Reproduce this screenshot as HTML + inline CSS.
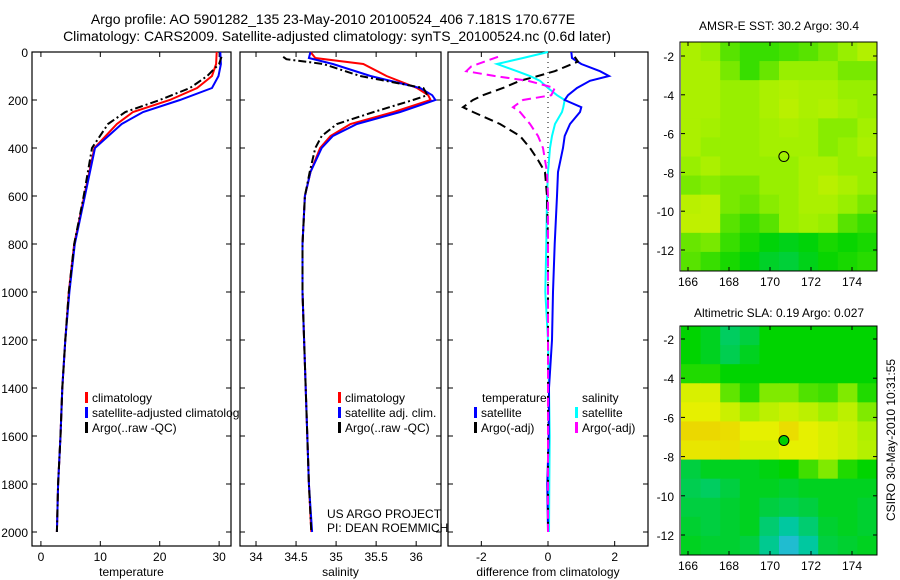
<!DOCTYPE html>
<html><head><meta charset="utf-8"><style>
html,body{margin:0;padding:0;background:#fff;}
svg{display:block;font-family:"Liberation Sans",sans-serif;}
</style></head><body>
<svg id="fig" width="900" height="580" viewBox="0 0 900 580" xmlns="http://www.w3.org/2000/svg">
<rect width="900" height="580" fill="#fff"/>
<text x="333" y="24" font-size="14" text-anchor="middle">Argo profile: AO 5901282_135 23-May-2010 20100524_406 7.181S 170.677E</text>
<text x="337" y="41" font-size="14" text-anchor="middle">Climatology: CARS2009. Satellite-adjusted climatology: synTS_20100524.nc (0.6d later)</text>
<g id="p1"></g>
<g id="p2"></g>
<g id="p3"></g>
<g id="m1"></g>
<g id="m2"></g>
<text x="779" y="30" font-size="12" text-anchor="middle">AMSR-E SST: 30.2 Argo: 30.4</text>
<text x="779" y="317" font-size="12" text-anchor="middle">Altimetric SLA: 0.19 Argo: 0.027</text>
<text transform="translate(895,440) rotate(-90)" font-size="12" text-anchor="middle">CSIRO 30-May-2010 10:31:55</text>
<text x="327" y="518" font-size="12">US ARGO PROJECT</text>
<text x="327" y="532" font-size="12">PI: DEAN ROEMMICH</text>
</svg>
<script>
// ---- profile data ----
const depthT = [0,50,100,150,200,250,300,400,600,800,1000,1200,1400,1600,1800,2000];
const tempClim = [29.6,29.5,28.8,26.3,21.7,15.5,12.8,9.0,7.3,5.6,4.7,4.1,3.6,3.3,2.9,2.7];
const tempSat  = [30.2,30.3,29.9,28.8,23.4,17.2,13.6,9.1,7.4,5.7,4.8,4.1,3.6,3.3,2.9,2.7];
const depthArgo = [20,50,100,150,200,250,300,400,600,800,1000,1200,1400,1600,1800,2000];
const tempArgo = [30.4,30.0,28.0,25.1,20.0,14.2,11.3,8.6,7.2,5.6,4.7,4.1,3.6,3.3,2.9,2.7];
const depthS = [0,25,50,100,150,180,200,250,300,350,400,500,600,800,1000,1200,1400,1600,1800,2000];
const salClim = [34.68,34.74,35.34,35.63,36.01,36.15,36.18,35.72,35.18,34.93,34.80,34.68,34.61,34.58,34.58,34.60,34.62,34.64,34.66,34.69];
const salSat  = [34.68,34.66,34.96,35.43,36.05,36.20,36.24,35.80,35.26,34.96,34.82,34.68,34.61,34.58,34.58,34.60,34.62,34.64,34.66,34.70];
const depthSA = [20,30,50,100,150,180,200,250,300,350,400,500,600,800,1000,1200,1400,1600,1800,2000];
const salArgo = [34.34,34.38,34.84,35.30,36.09,36.14,35.96,35.47,35.01,34.82,34.74,34.67,34.61,34.58,34.58,34.60,34.62,34.64,34.66,34.69];
// differences
const depthD = [0,25,50,80,100,120,150,180,200,230,250,300,350,400,500,600,800,1000,1200,1400,1600,1800,2000];
const dTempSat = [0.7,0.72,1.0,1.56,1.83,1.26,0.87,0.6,0.5,1.0,0.96,0.66,0.5,0.45,0.3,0.27,0.2,0.15,0.12,0.03,0.02,-0.02,0.0];
const dSalSat  = [0,-0.75,-1.53,-0.93,-0.54,-0.24,0,0.27,0.5,0.46,0.42,0.21,0.12,0.06,0,-0.03,-0.05,-0.08,0.0,0.03,0.05,0.04,0.03];
const depthDA = [20,40,60,80,100,120,150,180,200,230,250,300,350,400,450,500,600,800,1000,1200,1400,1600,1800,2000];
const dTempArgo = [0.8,0.9,0.55,0.2,-0.3,-0.84,-1.35,-1.95,-2.25,-2.55,-2.25,-1.44,-0.84,-0.54,-0.3,-0.09,-0.03,0,0,0,0,0,0,0];
const dSalArgo  = [-1.5,-1.9,-2.3,-2.45,-1.6,-0.6,0.2,0.1,-0.75,-1.05,-0.84,-0.54,-0.3,-0.15,-0.09,-0.03,0,0,0,0,0,0,0,0];
const depthTicks = [0,200,400,600,800,1000,1200,1400,1600,1800,2000];
const tempTicks = [0,10,20,30];
const salTicks = [34,34.5,35,35.5,36];
const salTickLabels = ["34","34.5","35","35.5","36"];
const diffTicks = [-2,0,2];
// ---- map data (rows lat -1.5..-12.5, cols lon ~166..175) ----
const sstGrid = [
[3,2.8,2.4,2.2,2.2,2.3,2.4,2.6,2.8,3.1],
[3,3,2.6,2.2,2.5,2.8,2.8,2.8,2.6,2.6],
[3,3,2.8,2.8,3,3.1,3,3,2.8,2.8],
[3,3,2.8,2.8,3,3.2,3,3.1,2.9,2.8],
[3,2.9,2.8,2.8,2.9,3,2.9,2.7,2.7,2.9],
[3,2.8,2.8,2.8,2.9,2.9,2.9,2.7,2.8,3],
[2.8,3,2.8,2.8,2.8,2.8,3,3,2.8,2.8],
[2.6,2.7,2.6,2.6,2.8,2.8,3,3.2,3,2.8],
[3.2,3.3,2.6,2.5,2.7,2.8,3,3,2.8,2.6],
[3.3,3.3,2.4,2.2,2.4,2.8,2.9,2.8,2.4,2.2],
[2.5,2.6,2.2,2.0,1.8,1.7,1.8,2.0,1.9,2.0],
[2.4,2.2,2.0,1.8,1.6,1.5,1.7,1.9,2.0,2.1]];
const slaGrid = [
[2,1.8,1.4,1.6,2,2,2,2,2,2],
[2,1.8,1.5,1.8,2,2,2,2,2,2],
[2.2,2.2,2,2,2,2,2,2,2,2],
[3.8,3.8,2.6,2.2,2.8,2.8,2.5,2.4,2.8,2.2],
[4,4,3.6,3,3.4,3.6,3.4,3,3.4,2.8],
[4.5,4.5,4.4,4,4,4.4,4,3.8,3.6,3.2],
[4.2,4.2,4.3,3.8,3.8,4,4,3.8,3.6,3.3],
[1.6,1.8,1.8,1.8,1.9,2,2.4,2.8,2.2,2],
[1.5,1.4,1.6,1.8,1.8,1.7,1.8,1.8,1.8,1.8],
[1.6,1.6,1.7,1.8,1.6,1.5,1.6,1.8,1.8,1.7],
[1.7,1.6,1.7,1.8,1.3,1.0,1.3,1.7,1.8,1.7],
[1.8,1.7,1.7,1.6,1.1,0.5,1.0,1.6,1.7,1.8]];
const lonTicks = [166,168,170,172,174];
const latTicks = [-2,-4,-6,-8,-10,-12];
const argoLon = 170.677, argoLat = -7.181;

const NS = "http://www.w3.org/2000/svg";
function mk(parent, tag, attrs){const e=document.createElementNS(NS,tag);for(const k in attrs)e.setAttribute(k,attrs[k]);parent.appendChild(e);return e;}
const yD = d => 52 + d*0.24;

function panel(g, x0, x1, xmin, xmax, ticks, labels, title, showY){
  const xs = v => x0 + (v-xmin)/(xmax-xmin)*(x1-x0);
  const r = mk(g,'rect',{x:x0,y:52,width:x1-x0,height:494,fill:'#fff',stroke:'#000','stroke-width':1.2});
  
  
  depthTicks.forEach(d=>{
    const y=yD(d);
    mk(g,'line',{x1:x0,x2:x0+5,y1:y,y2:y,stroke:'#000'});
    mk(g,'line',{x1:x1-5,x2:x1,y1:y,y2:y,stroke:'#000'});
    if(showY){const t=mk(g,'text',{x:28,y:y+5,'font-size':12,'text-anchor':'end'});t.textContent=d;
      
      }
  });
  ticks.forEach((v,i)=>{
    const x=xs(v);
    mk(g,'line',{x1:x,x2:x,y1:546,y2:541,stroke:'#000'});
    mk(g,'line',{x1:x,x2:x,y1:52,y2:57,stroke:'#000'});
    const t=mk(g,'text',{x:x,y:561,'font-size':12,'text-anchor':'middle'});t.textContent=labels[i];
    
    
  });
  const tt=mk(g,'text',{x:(x0+x1)/2,y:576,'font-size':12,'text-anchor':'middle'});tt.textContent=title;
  
  
  return xs;
}
function line(g, xs, vals, depths, color, dash, name, w){
  const pts = vals.map((v,i)=>xs(v).toFixed(1)+','+yD(depths[i]).toFixed(1)).join(' ');
  const p=mk(g,'polyline',{points:pts,fill:'none',stroke:color,'stroke-width':w||2,'stroke-dasharray':dash||'none'});
  
  
}
function legend(g, x, y, color, label, name){
  mk(g,'rect',{x:x,y:y-10,width:3,height:11,fill:color});
  const t=mk(g,'text',{x:x+7,y:y,'font-size':12});t.textContent=label;
  
  
}
// panel 1
const g1=document.getElementById('p1');
const xT=panel(g1,32,231,-1.5,32,tempTicks,tempTicks.map(String),'temperature',true);
line(g1,xT,tempClim,depthT,'#f00',null,'temp-climatology-line');
line(g1,xT,tempSat,depthT,'#00f',null,'temp-satellite-line');
line(g1,xT,tempArgo,depthArgo,'#000','8,3,2,3','temp-argo-line');
legend(g1,85,402,'#f00','climatology','legend-climatology');
legend(g1,85,417,'#00f','satellite-adjusted climatology','legend-satellite');
legend(g1,85,432,'#000','Argo(..raw -QC)','legend-argo');
// panel 2
const g2=document.getElementById('p2');
const xS=panel(g2,240,441,33.8,36.31,salTicks,salTickLabels,'salinity',false);
line(g2,xS,salClim,depthS,'#f00',null,'sal-climatology-line');
line(g2,xS,salSat,depthS,'#00f',null,'sal-satellite-line');
line(g2,xS,salArgo,depthSA,'#000','8,3,2,3','sal-argo-line');
legend(g2,338,402,'#f00','climatology','legend-climatology');
legend(g2,338,417,'#00f','satellite adj. clim.','legend-satellite');
legend(g2,338,432,'#000','Argo(..raw -QC)','legend-argo');
// panel 3
const g3=document.getElementById('p3');
const xD=panel(g3,448,648,-3,3,diffTicks,diffTicks.map(String),'difference from climatology',false);
mk(g3,'line',{x1:xD(0),x2:xD(0),y1:52,y2:532,stroke:'#000','stroke-dasharray':'1,4'});
line(g3,xD,dSalSat,depthD,'#0ff',null,'sal-satellite-diff-line');
line(g3,xD,dTempSat,depthD,'#00f',null,'temp-satellite-diff-line');
line(g3,xD,dTempArgo,depthDA,'#000','9,5','temp-argo-diff-line');
line(g3,xD,dSalArgo,depthDA,'#f0f','9,5','sal-argo-diff-line');
{const t=mk(g3,'text',{x:482,y:402,'font-size':12});t.textContent='temperature';


const s=mk(g3,'text',{x:582,y:402,'font-size':12});s.textContent='salinity';

}
legend(g3,474,417,'#00f','satellite','legend-temp-satellite');
legend(g3,474,432,'#000','Argo(-adj)','legend-temp-argo');
legend(g3,575,417,'#0ff','satellite','legend-sal-satellite');
legend(g3,575,432,'#f0f','Argo(-adj)','legend-sal-argo');

// maps
const cmapStops=[[0,[64,176,255]],[1,[0,200,160]],[2,[0,212,0]],[3,[160,240,0]],[4,[230,240,0]],[5,[240,192,0]]];
function cmap(v){
  v=Math.max(0,Math.min(5,v));const i=Math.min(4,Math.floor(v));const f=v-i;
  const a=cmapStops[i][1],b=cmapStops[i+1][1];
  return 'rgb('+a.map((c,k)=>Math.round(c+(b[k]-c)*f)).join(',')+')';
}
function map(g, grid, top, bottom, lat2y, filled, name, shift){
  const x0=681,x1=877;
  const rows=grid.length,cols=grid[0].length;
  const cw=(x1-x0)/cols,ch=(bottom-top)/rows;
  grid.forEach((row,r)=>row.forEach((v,c)=>{
    const e=mk(g,'rect',{x:(x0+c*cw).toFixed(2),y:(top+r*ch).toFixed(2),width:(cw+0.5).toFixed(2),height:(ch+0.5).toFixed(2),fill:cmap(v+shift)});
    
    
  }));
  const f=mk(g,'rect',{x:x0-1,y:top,width:x1-x0+1,height:bottom-top,fill:'none',stroke:'#000','stroke-width':1});
  
  
  const lx=v=>688+(v-166)*20.5;
  const ly=lat2y;
  lonTicks.forEach(v=>{
    mk(g,'line',{x1:lx(v),x2:lx(v),y1:top,y2:top+4,stroke:'#000'});
    mk(g,'line',{x1:lx(v),x2:lx(v),y1:bottom,y2:bottom-4,stroke:'#000'});
    const t=mk(g,'text',{x:lx(v),y:bottom+15,'font-size':12,'text-anchor':'middle'});t.textContent=v;
    
    
  });
  latTicks.forEach(v=>{
    mk(g,'line',{x1:x0,x2:x0+4,y1:ly(v),y2:ly(v),stroke:'#000'});
    mk(g,'line',{x1:x1-4,x2:x1,y1:ly(v),y2:ly(v),stroke:'#000'});
    const t=mk(g,'text',{x:674,y:ly(v)+5,'font-size':12,'text-anchor':'end'});t.textContent=v;
    
    
  });
  const c=mk(g,'circle',{cx:lx(argoLon),cy:ly(argoLat),r:5,fill:filled?'#00d000':'none',stroke:'#000','stroke-width':1});
  
  
}
map(document.getElementById('m1'),sstGrid,42,271,v=>56+(-2-v)*19.4,false,'sst-map',0.15);
map(document.getElementById('m2'),slaGrid,326,555,v=>339+(-2-v)*19.6,true,'sla-map',0);
</script>
</body></html>
